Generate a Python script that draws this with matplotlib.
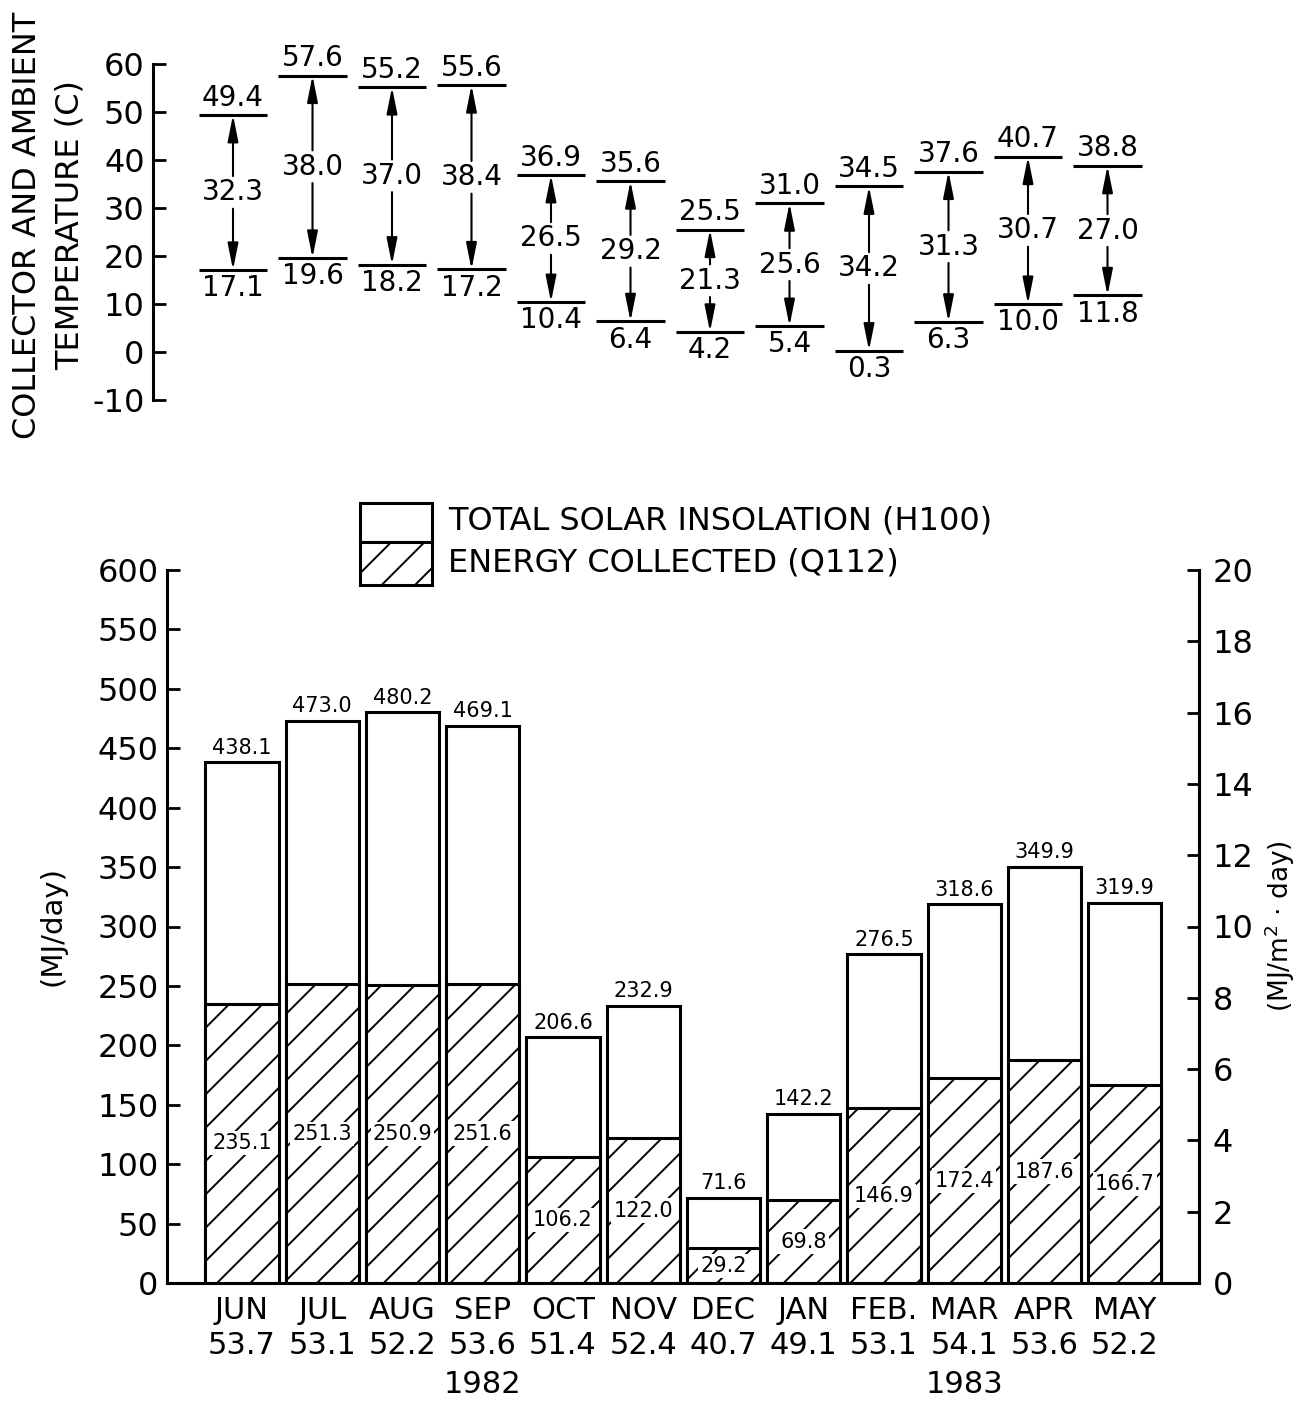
import numpy as np
import matplotlib
matplotlib.use("Agg")
import matplotlib.pyplot as plt
from matplotlib.patches import Rectangle

# --- data ---
months = ["JUN", "JUL", "AUG", "SEP", "OCT", "NOV", "DEC", "JAN", "FEB.", "MAR", "APR", "MAY"]
efficiency = ["53.7", "53.1", "52.2", "53.6", "51.4", "52.4", "40.7", "49.1", "53.1", "54.1", "53.6", "52.2"]
years = {3: "1982", 9: "1983"}

collector_t = [49.4, 57.6, 55.2, 55.6, 36.9, 35.6, 25.5, 31.0, 34.5, 37.6, 40.7, 38.8]
ambient_t = [17.1, 19.6, 18.2, 17.2, 10.4, 6.4, 4.2, 5.4, 0.3, 6.3, 10.0, 11.8]
temp_diff = [32.3, 38.0, 37.0, 38.4, 26.5, 29.2, 21.3, 25.6, 34.2, 31.3, 30.7, 27.0]

insolation = [438.1, 473.0, 480.2, 469.1, 206.6, 232.9, 71.6, 142.2, 276.5, 318.6, 349.9, 319.9]
collected = [235.1, 251.3, 250.9, 251.6, 106.2, 122.0, 29.2, 69.8, 146.9, 172.4, 187.6, 166.7]

plt.rcParams["font.family"] = "DejaVu Sans"
plt.rcParams["hatch.linewidth"] = 1.4
plt.rcParams["axes.unicode_minus"] = False

W, H = 1299, 1406
fig = plt.figure(figsize=(W / 100, H / 100), dpi=100)

x = np.arange(len(months))

# ---------------- top panel: temperatures ----------------
axt = fig.add_axes([153 / W, (H - 400) / H, (1199 - 153) / W, 336 / H])
axt.set_xlim(-80 / 79.5, -80 / 79.5 + 1046 / 79.5)
axt.set_ylim(-10, 60)
for s in ["top", "right", "bottom"]:
    axt.spines[s].set_visible(False)
axt.spines["left"].set_linewidth(2.2)
axt.set_xticks([])
axt.set_yticks(np.arange(-10, 61, 10))
axt.tick_params(axis="y", direction="in", length=9, width=2, labelsize=23, pad=6)

half = 0.43
for i in x:
    ct, at, d = collector_t[i], ambient_t[i], temp_diff[i]
    axt.plot([i - half, i + half], [ct, ct], color="black", lw=2.2, solid_capstyle="butt")
    axt.plot([i - half, i + half], [at, at], color="black", lw=2.2, solid_capstyle="butt")
    axt.text(i, ct + 0.7, f"{ct:.1f}", ha="center", va="bottom", fontsize=20)
    axt.text(i, at - 0.9, f"{at:.1f}", ha="center", va="top", fontsize=20)
    mid = (ct + at) / 2
    axt.text(i, mid, f"{d:.1f}", ha="center", va="center", fontsize=20)
    style = "-|>,head_length=0.8,head_width=0.16"
    axt.annotate("", xy=(i, ct), xytext=(i, mid + 3.4),
                 arrowprops=dict(arrowstyle=style, color="black", lw=1.5,
                                 shrinkA=0, shrinkB=0, mutation_scale=20))
    axt.annotate("", xy=(i, at), xytext=(i, mid - 3.4),
                 arrowprops=dict(arrowstyle=style, color="black", lw=1.5,
                                 shrinkA=0, shrinkB=0, mutation_scale=20))

fig.text(28 / W, 1 - 225 / H, "COLLECTOR AND AMBIENT", rotation=90,
         ha="center", va="center", fontsize=23)
fig.text(70 / W, 1 - 225 / H, "TEMPERATURE (C)", rotation=90,
         ha="center", va="center", fontsize=23)

# ---------------- bottom panel: energy bars ----------------
ax = fig.add_axes([167 / W, 123 / H, 1032 / W, 713 / H])
ax.set_xlim(-75 / 80.25, -75 / 80.25 + 1032 / 80.25)
ax.set_ylim(0, 600)
ax.spines["top"].set_visible(False)
for s in ["left", "bottom", "right"]:
    ax.spines[s].set_linewidth(2.2)
ax.set_xticks([])
ax.set_yticks(np.arange(0, 601, 50))
ax.tick_params(axis="y", direction="in", length=9, width=2, labelsize=23, pad=6)

bw = 0.91
ax.bar(x, insolation, width=bw, color="white", edgecolor="black", linewidth=2.2)
ax.bar(x, collected, width=bw, color="white", edgecolor="black", linewidth=2.2, hatch="/")

for i in x:
    ax.text(i, insolation[i] + 4, f"{insolation[i]:.1f}", ha="center", va="bottom", fontsize=15)
    ax.text(i, collected[i] / 2, f"{collected[i]:.1f}", ha="center", va="center", fontsize=15,
            bbox=dict(facecolor="white", edgecolor="none", pad=1.5))

tr = ax.get_xaxis_transform()
for i in x:
    ax.text(i, -0.038, months[i], transform=tr, ha="center", va="center", fontsize=22)
    ax.text(i, -0.087, efficiency[i], transform=tr, ha="center", va="center", fontsize=22)
for i, yr in years.items():
    ax.text(i, -0.143, yr, transform=tr, ha="center", va="center", fontsize=22)

ax.set_ylabel("(MJ/day)", fontsize=21, labelpad=22)

axr = ax.twinx()
axr.set_ylim(0, 20)
axr.set_yticks(np.arange(0, 21, 2))
for s in ["top", "left", "bottom"]:
    axr.spines[s].set_visible(False)
axr.spines["right"].set_linewidth(2.2)
axr.tick_params(axis="y", direction="in", length=9, width=2, labelsize=23, pad=10)
axr.set_ylabel("(MJ/m$^2$ · day)", fontsize=19, labelpad=6)

# legend boxes drawn above the plot area
ax.add_patch(Rectangle((0.187, 1.039), 0.070, 0.055, transform=ax.transAxes,
                       facecolor="white", edgecolor="black", lw=2.2, clip_on=False))
ax.add_patch(Rectangle((0.187, 0.979), 0.070, 0.060, transform=ax.transAxes,
                       facecolor="white", edgecolor="black", lw=2.2, hatch="/", clip_on=False))
ax.text(0.272, 1.069, "TOTAL SOLAR INSOLATION (H100)", transform=ax.transAxes,
        ha="left", va="center", fontsize=23)
ax.text(0.272, 1.010, "ENERGY COLLECTED (Q112)", transform=ax.transAxes,
        ha="left", va="center", fontsize=23)

fig.savefig("out.png", dpi=100)
